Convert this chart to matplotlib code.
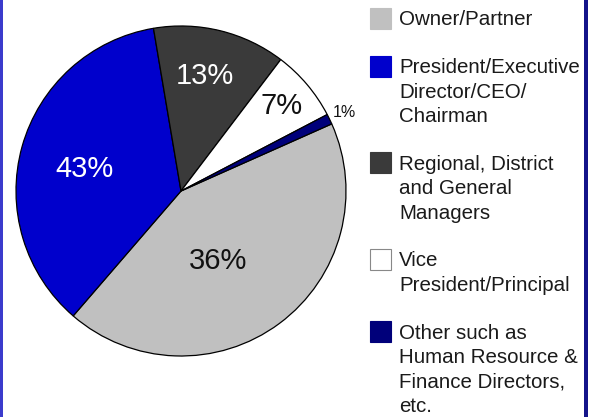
import numpy as np
import matplotlib
matplotlib.use("Agg")
import matplotlib.pyplot as plt
from matplotlib.patches import Rectangle

plt.rcParams['font.family'] = ['Liberation Sans', 'DejaVu Sans']

# slice sizes as drawn in the picture (clockwise from the right)
categories = ["Owner/Partner",
              "President/Executive\nDirector/CEO/\nChairman",
              "Regional, District\nand General\nManagers",
              "Vice\nPresident/Principal",
              "Other such as\nHuman Resource &\nFinance Directors,\netc."]
shares = [43, 36, 13, 7, 1]
pct_labels = ["36%", "43%", "13%", "7%", "1%"]
colors = ["#c0c0c0", "#0000cc", "#3a3a3a", "#ffffff", "#00007a"]
label_colors = ["#111111", "white", "white", "#111111", "#111111"]
label_dist = [0.48, 0.6, 0.71, 0.8, 1.1]
label_shift = [-9, 3, 2, 0, 0]   # small angular nudges (deg)
label_size = [21, 21, 21, 21, 11.5]

W, H = 591, 417
fig = plt.figure(figsize=(W / 100, H / 100), dpi=100)

# pie: centre (181,191) px, radius 165 px
cx, cy, R = 181, 191, 165
ax = fig.add_axes([(cx - R) / W, (H - cy - R) / H, 2 * R / W, 2 * R / H])
wedges, _ = ax.pie(shares, colors=colors, startangle=24, counterclock=False,
                   wedgeprops=dict(edgecolor="black", linewidth=0.9))
for w in wedges:
    w.set_clip_on(False)
ax.set_xlim(-1, 1)
ax.set_ylim(-1, 1)
ax.set_aspect("equal")
ax.axis("off")

for w, txt, d, sh, c, fs in zip(wedges, pct_labels, label_dist, label_shift,
                                label_colors, label_size):
    ang = np.deg2rad((w.theta1 + w.theta2) / 2 + sh)
    ax.text(d * np.cos(ang), d * np.sin(ang), txt, ha="center", va="center",
            color=c, fontsize=fs)

# overlay in pixel coordinates for legend and frame
lax = fig.add_axes([0, 0, 1, 1], zorder=-1)
lax.set_xlim(0, W)
lax.set_ylim(H, 0)
lax.axis("off")

lax.add_patch(Rectangle((0, 0), 3, H, color="#3b3bcc", lw=0))
lax.add_patch(Rectangle((584, 0), 4, H, color="#14148a", lw=0))

line_h = 24.3
step = 48
yc = 18   # centre of first text line of the current entry
for lab, col in zip(categories, colors):
    lines = lab.split("\n")
    lax.add_patch(Rectangle((370, yc - 10.5), 21, 21, facecolor=col,
                            edgecolor="#888888" if col == "#ffffff" else col,
                            lw=0.8))
    for k, ln in enumerate(lines):
        lax.text(399, yc + 7.3 + k * line_h, ln, ha="left", va="baseline",
                 fontsize=14.8, color="#1a1a1a")
    yc += (len(lines) - 1) * line_h + step

fig.savefig("out.png", dpi=100)
